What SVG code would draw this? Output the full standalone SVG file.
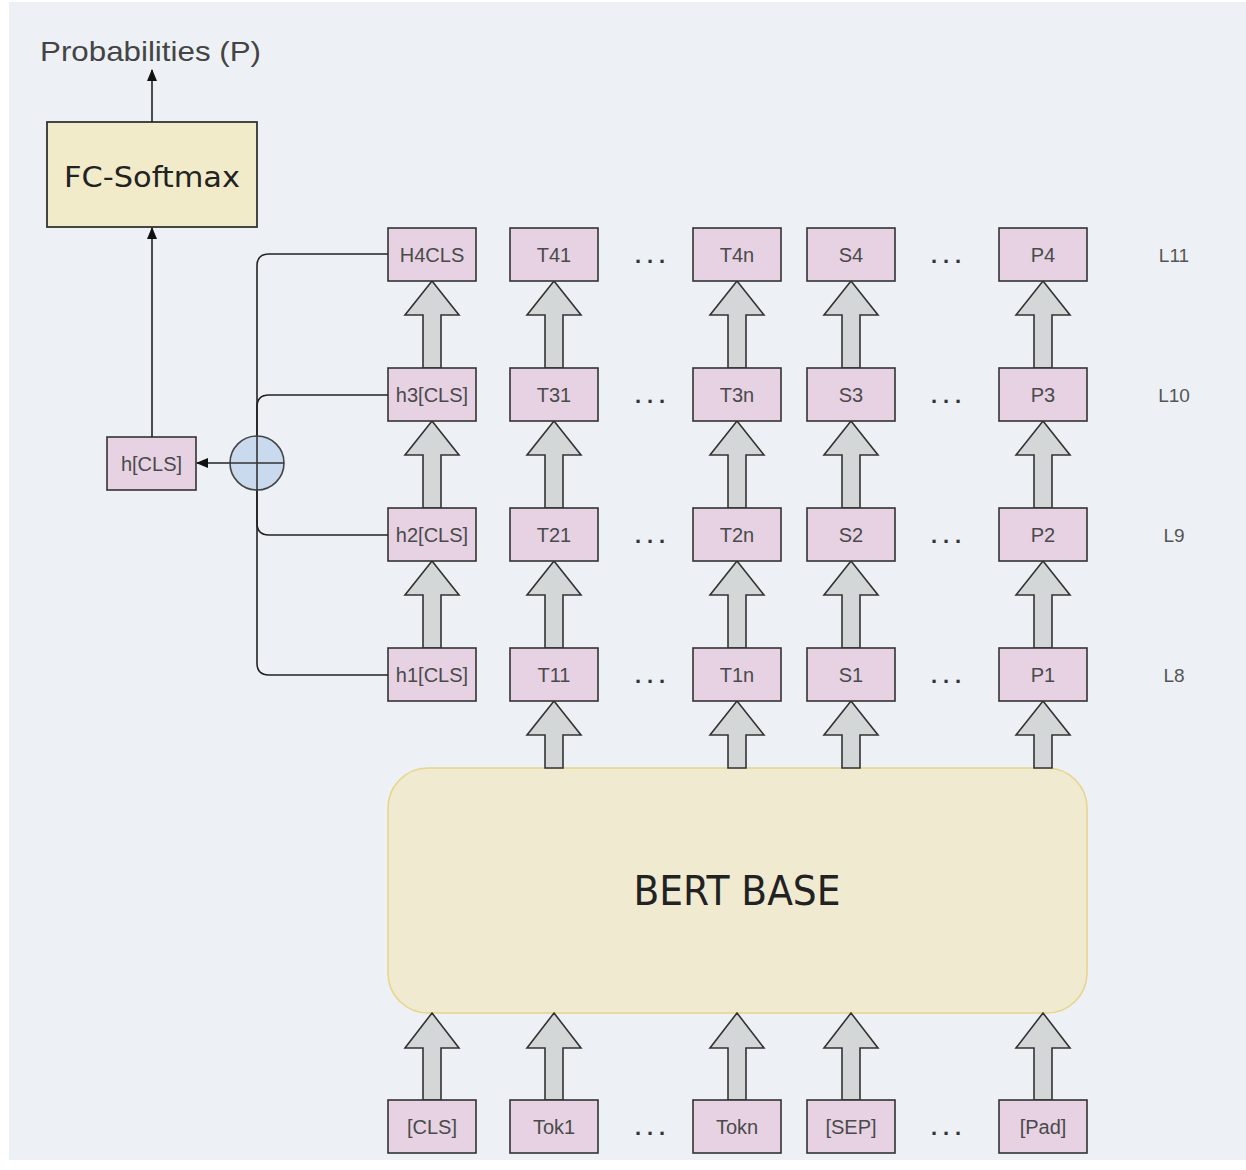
<svg xmlns="http://www.w3.org/2000/svg" width="1246" height="1170" viewBox="0 0 1246 1170">
<defs>
<marker id="ah" markerWidth="12" markerHeight="10" refX="11" refY="5" orient="auto" markerUnits="userSpaceOnUse">
<path d="M0,0 L12,5 L0,10 z" fill="#111"/>
</marker>
<style>
.box{fill:#e6d2e2;stroke:#333;stroke-width:1.6}
.lbl{font-family:"Liberation Sans",Arial,sans-serif;font-size:20px;fill:#4a4a4a;text-anchor:middle}
.dots{font-family:"Liberation Sans",Arial,sans-serif;font-size:22px;font-weight:bold;fill:#333;text-anchor:middle}
.lay{font-family:"Liberation Sans",Arial,sans-serif;font-size:19px;fill:#555;text-anchor:middle}
.blk{fill:#d4d7d7;stroke:#333;stroke-width:1.6;stroke-linejoin:miter}
.ln{fill:none;stroke:#222;stroke-width:1.6}
.comic{font-family:"DejaVu Sans",sans-serif;fill:#222;text-anchor:middle}
</style>
</defs>
<rect x="0" y="0" width="1246" height="1170" fill="#ffffff"/>
<rect x="9" y="2" width="1237" height="1158" fill="#edf1f5"/>

<g id="prob-label">
<text x="40" y="61" font-family="Liberation Sans, Arial, sans-serif" font-size="28" fill="#444" textLength="221" lengthAdjust="spacingAndGlyphs">Probabilities (P)</text>
</g>

<g id="fc-softmax">
<rect x="47" y="122" width="210" height="105" fill="#f1ebca" stroke="#333" stroke-width="1.8"/>
<text class="comic" x="152" y="187" font-size="28" textLength="176" lengthAdjust="spacingAndGlyphs">FC-Softmax</text>
</g>

<g id="hcls">
<rect class="box" x="107" y="437" width="89" height="53"/>
<text class="lbl" x="151.5" y="471">h[CLS]</text>
</g>

<g id="bert-base">
<rect x="388" y="768" width="699" height="245" rx="40" ry="40" fill="#f0ebd0" stroke="#e6d58a" stroke-width="1.6"/>
<text class="comic" x="737" y="905" font-size="40" textLength="207" lengthAdjust="spacingAndGlyphs">BERT BASE</text>
</g>

<g id="connectors">
<path class="ln" d="M152,122 V70" marker-end="url(#ah)"/>
<path class="ln" d="M152,437 V228" marker-end="url(#ah)"/>
<path class="ln" d="M388,254 H269 Q257,254 257,266 V463"/>
<path class="ln" d="M388,395 H269 Q257,395 257,407 V463"/>
<path class="ln" d="M388,535 H269 Q257,535 257,523 V463"/>
<path class="ln" d="M388,675 H269 Q257,675 257,663 V463"/>
<path class="ln" d="M230,463 H197" marker-end="url(#ah)"/>
<g id="block-arrows">
<polygon class="blk" points="432,281 459,315 441,315 441,368 423,368 423,315 405,315"/>
<polygon class="blk" points="554,281 581,315 563,315 563,368 545,368 545,315 527,315"/>
<polygon class="blk" points="737,281 764,315 746,315 746,368 728,368 728,315 710,315"/>
<polygon class="blk" points="851,281 878,315 860,315 860,368 842,368 842,315 824,315"/>
<polygon class="blk" points="1043,281 1070,315 1052,315 1052,368 1034,368 1034,315 1016,315"/>
<polygon class="blk" points="432,421 459,455 441,455 441,508 423,508 423,455 405,455"/>
<polygon class="blk" points="554,421 581,455 563,455 563,508 545,508 545,455 527,455"/>
<polygon class="blk" points="737,421 764,455 746,455 746,508 728,508 728,455 710,455"/>
<polygon class="blk" points="851,421 878,455 860,455 860,508 842,508 842,455 824,455"/>
<polygon class="blk" points="1043,421 1070,455 1052,455 1052,508 1034,508 1034,455 1016,455"/>
<polygon class="blk" points="432,561 459,595 441,595 441,648 423,648 423,595 405,595"/>
<polygon class="blk" points="554,561 581,595 563,595 563,648 545,648 545,595 527,595"/>
<polygon class="blk" points="737,561 764,595 746,595 746,648 728,648 728,595 710,595"/>
<polygon class="blk" points="851,561 878,595 860,595 860,648 842,648 842,595 824,595"/>
<polygon class="blk" points="1043,561 1070,595 1052,595 1052,648 1034,648 1034,595 1016,595"/>
<polygon class="blk" points="554,701 581,735 563,735 563,768 545,768 545,735 527,735"/>
<polygon class="blk" points="737,701 764,735 746,735 746,768 728,768 728,735 710,735"/>
<polygon class="blk" points="851,701 878,735 860,735 860,768 842,768 842,735 824,735"/>
<polygon class="blk" points="1043,701 1070,735 1052,735 1052,768 1034,768 1034,735 1016,735"/>
<polygon class="blk" points="432,1013 459,1048 441,1048 441,1100 423,1100 423,1048 405,1048"/>
<polygon class="blk" points="554,1013 581,1048 563,1048 563,1100 545,1100 545,1048 527,1048"/>
<polygon class="blk" points="737,1013 764,1048 746,1048 746,1100 728,1100 728,1048 710,1048"/>
<polygon class="blk" points="851,1013 878,1048 860,1048 860,1100 842,1100 842,1048 824,1048"/>
<polygon class="blk" points="1043,1013 1070,1048 1052,1048 1052,1100 1034,1100 1034,1048 1016,1048"/>
</g>
</g>

<g id="sum">
<circle cx="257" cy="463" r="27" fill="#c9d9ee" stroke="#444" stroke-width="1.6"/>
<path d="M230,463 H284 M257,436 V490" stroke="#333" stroke-width="1.6"/>
</g>

<g id="H4CLS"><rect class="box" x="388" y="228" width="88" height="53"/><text class="lbl" x="432" y="262">H4CLS</text></g>
<g id="T41"><rect class="box" x="510" y="228" width="88" height="53"/><text class="lbl" x="554" y="262">T41</text></g>
<g id="T4n"><rect class="box" x="693" y="228" width="88" height="53"/><text class="lbl" x="737" y="262">T4n</text></g>
<g id="S4"><rect class="box" x="807" y="228" width="88" height="53"/><text class="lbl" x="851" y="262">S4</text></g>
<g id="P4"><rect class="box" x="999" y="228" width="88" height="53"/><text class="lbl" x="1043" y="262">P4</text></g>

<g id="h3CLS"><rect class="box" x="388" y="368" width="88" height="53"/><text class="lbl" x="432" y="402">h3[CLS]</text></g>
<g id="T31"><rect class="box" x="510" y="368" width="88" height="53"/><text class="lbl" x="554" y="402">T31</text></g>
<g id="T3n"><rect class="box" x="693" y="368" width="88" height="53"/><text class="lbl" x="737" y="402">T3n</text></g>
<g id="S3"><rect class="box" x="807" y="368" width="88" height="53"/><text class="lbl" x="851" y="402">S3</text></g>
<g id="P3"><rect class="box" x="999" y="368" width="88" height="53"/><text class="lbl" x="1043" y="402">P3</text></g>

<g id="h2CLS"><rect class="box" x="388" y="508" width="88" height="53"/><text class="lbl" x="432" y="542">h2[CLS]</text></g>
<g id="T21"><rect class="box" x="510" y="508" width="88" height="53"/><text class="lbl" x="554" y="542">T21</text></g>
<g id="T2n"><rect class="box" x="693" y="508" width="88" height="53"/><text class="lbl" x="737" y="542">T2n</text></g>
<g id="S2"><rect class="box" x="807" y="508" width="88" height="53"/><text class="lbl" x="851" y="542">S2</text></g>
<g id="P2"><rect class="box" x="999" y="508" width="88" height="53"/><text class="lbl" x="1043" y="542">P2</text></g>

<g id="h1CLS"><rect class="box" x="388" y="648" width="88" height="53"/><text class="lbl" x="432" y="682">h1[CLS]</text></g>
<g id="T11"><rect class="box" x="510" y="648" width="88" height="53"/><text class="lbl" x="554" y="682">T11</text></g>
<g id="T1n"><rect class="box" x="693" y="648" width="88" height="53"/><text class="lbl" x="737" y="682">T1n</text></g>
<g id="S1"><rect class="box" x="807" y="648" width="88" height="53"/><text class="lbl" x="851" y="682">S1</text></g>
<g id="P1"><rect class="box" x="999" y="648" width="88" height="53"/><text class="lbl" x="1043" y="682">P1</text></g>

<g id="in-CLS"><rect class="box" x="388" y="1100" width="88" height="53"/><text class="lbl" x="432" y="1134">[CLS]</text></g>
<g id="in-Tok1"><rect class="box" x="510" y="1100" width="88" height="53"/><text class="lbl" x="554" y="1134">Tok1</text></g>
<g id="in-Tokn"><rect class="box" x="693" y="1100" width="88" height="53"/><text class="lbl" x="737" y="1134">Tokn</text></g>
<g id="in-SEP"><rect class="box" x="807" y="1100" width="88" height="53"/><text class="lbl" x="851" y="1134">[SEP]</text></g>
<g id="in-Pad"><rect class="box" x="999" y="1100" width="88" height="53"/><text class="lbl" x="1043" y="1134">[Pad]</text></g>

<g id="ellipses">
<text class="dots" x="650" y="263" textLength="30" lengthAdjust="spacing">...</text><text class="dots" x="946" y="263" textLength="30" lengthAdjust="spacing">...</text>
<text class="dots" x="650" y="403" textLength="30" lengthAdjust="spacing">...</text><text class="dots" x="946" y="403" textLength="30" lengthAdjust="spacing">...</text>
<text class="dots" x="650" y="543" textLength="30" lengthAdjust="spacing">...</text><text class="dots" x="946" y="543" textLength="30" lengthAdjust="spacing">...</text>
<text class="dots" x="650" y="683" textLength="30" lengthAdjust="spacing">...</text><text class="dots" x="946" y="683" textLength="30" lengthAdjust="spacing">...</text>
<text class="dots" x="650" y="1135" textLength="30" lengthAdjust="spacing">...</text><text class="dots" x="946" y="1135" textLength="30" lengthAdjust="spacing">...</text>
</g>

<g id="layer-labels">
<text class="lay" x="1174" y="262">L11</text>
<text class="lay" x="1174" y="402">L10</text>
<text class="lay" x="1174" y="542">L9</text>
<text class="lay" x="1174" y="682">L8</text>
</g>
</svg>
